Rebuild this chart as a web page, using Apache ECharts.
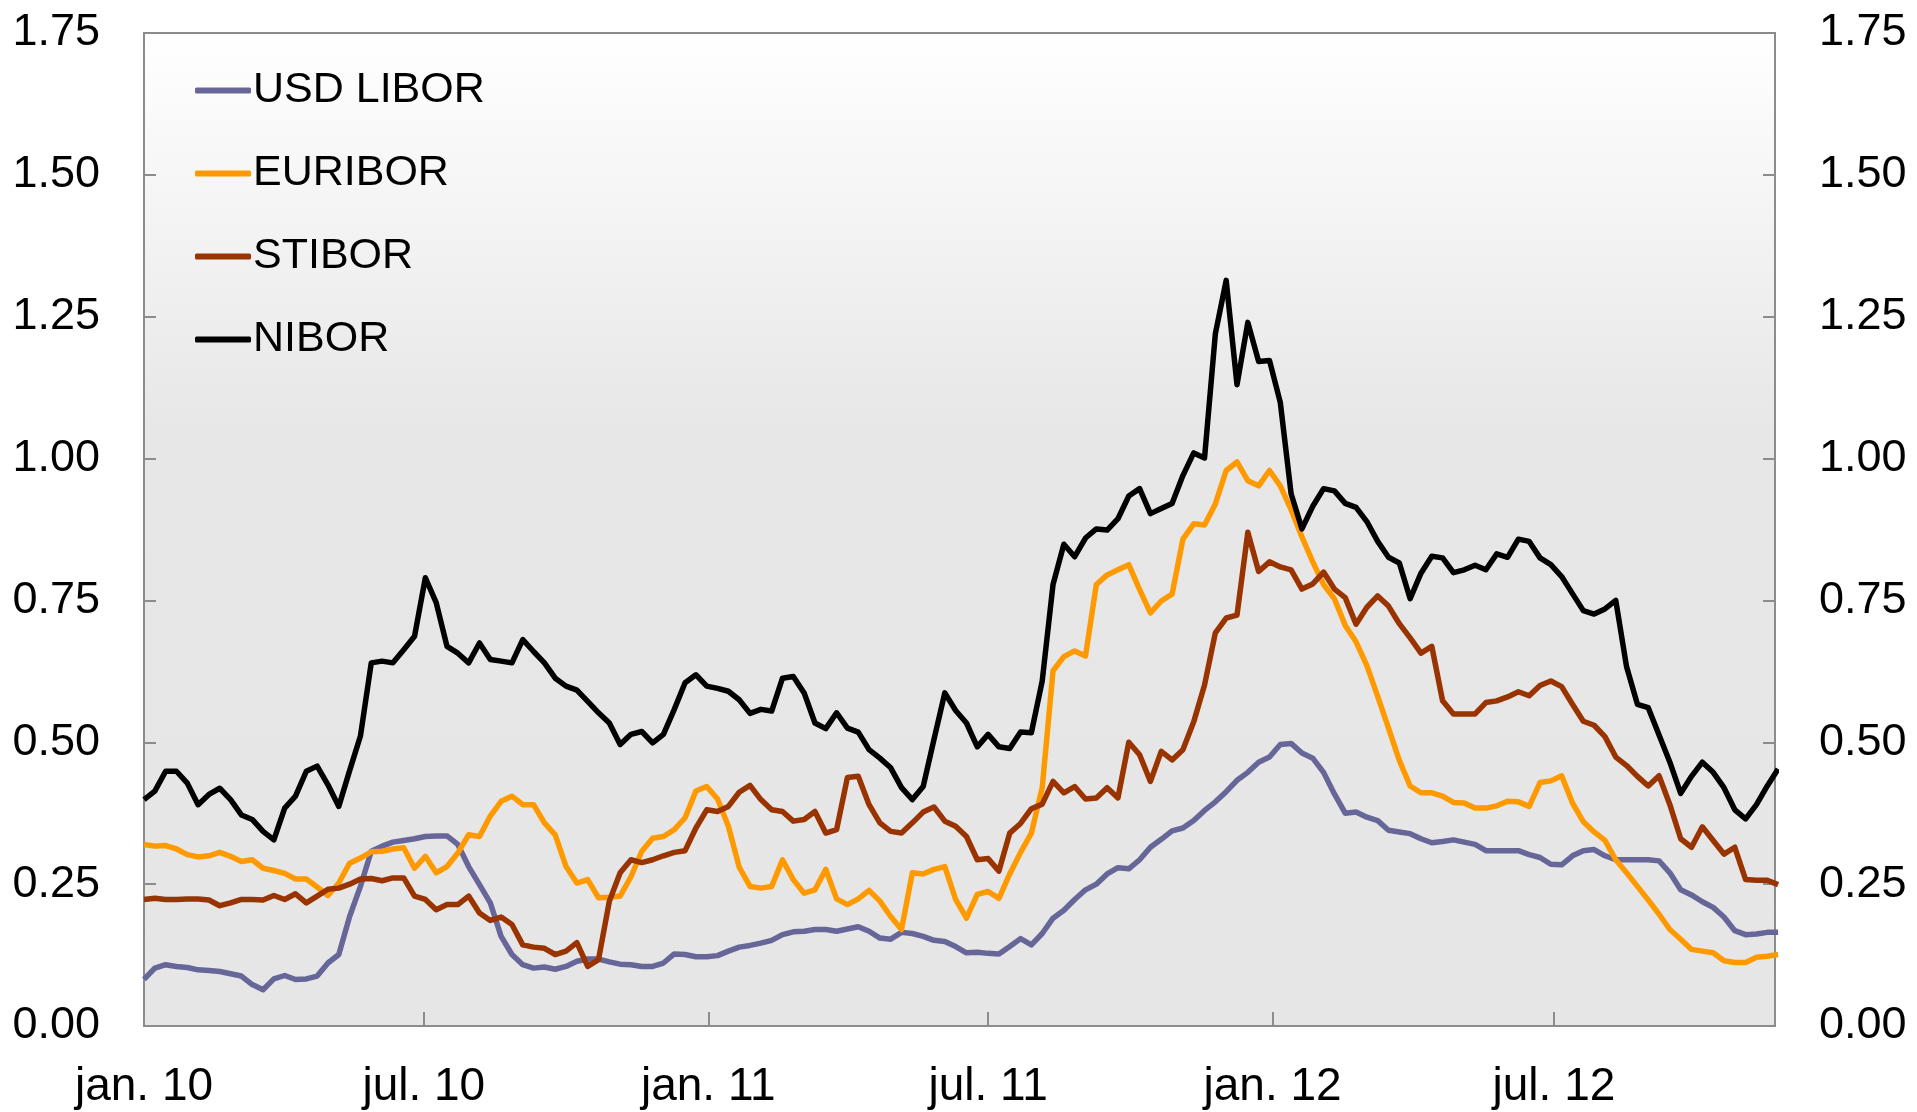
<!DOCTYPE html>
<html>
<head>
<meta charset="utf-8">
<title>Pengemarkedsrenter</title>
<script src="https://cdn.jsdelivr.net/npm/echarts@6/dist/echarts.min.js"></script>
<style>
  html, body { margin: 0; padding: 0; background: #fff; }
  #chart { width: 1917px; height: 1112px; }
</style>
</head>
<body>
<div id="chart"></div>
<script>
// weekly observations, first one 1 Jan 2010
const startDay = Date.UTC(2010, 0, 1)
const endDay = Date.UTC(2012, 10, 21)
const stepDays = 7

const usdLibor = [
  0.082, 0.102, 0.108, 0.105, 0.103, 0.099, 0.098, 0.096, 0.092, 0.088,
  0.073, 0.064, 0.083, 0.089, 0.082, 0.083, 0.088, 0.111, 0.126, 0.193,
  0.246, 0.308, 0.317, 0.324, 0.327, 0.330, 0.334, 0.335, 0.335, 0.320,
  0.281, 0.249, 0.217, 0.158, 0.126, 0.108, 0.102, 0.104, 0.100,
  0.105, 0.114, 0.118, 0.118, 0.113, 0.109, 0.108, 0.105, 0.105, 0.111,
  0.127, 0.126, 0.122, 0.122, 0.124, 0.132, 0.139, 0.142, 0.146, 0.151,
  0.161, 0.166, 0.167, 0.170, 0.170, 0.167, 0.171, 0.175, 0.167, 0.155,
  0.153, 0.165, 0.163, 0.158, 0.151, 0.149, 0.140, 0.129,
  0.130, 0.128, 0.127, 0.140, 0.154, 0.143, 0.163, 0.190, 0.204, 0.223,
  0.240, 0.250, 0.268, 0.279, 0.277, 0.293, 0.315, 0.329, 0.344, 0.349,
  0.362, 0.380, 0.395, 0.413, 0.433, 0.447, 0.465, 0.474, 0.496, 0.498,
  0.481, 0.472, 0.447, 0.409, 0.375, 0.377, 0.368, 0.362,
  0.345, 0.342, 0.339, 0.330, 0.323, 0.325, 0.328, 0.324, 0.320, 0.309,
  0.309, 0.309, 0.309, 0.302, 0.297, 0.285, 0.284, 0.300, 0.309, 0.311,
  0.300, 0.293, 0.293, 0.293, 0.293, 0.291, 0.270, 0.240, 0.231, 0.219,
  0.209, 0.192, 0.168, 0.161, 0.162, 0.165, 0.165
]

const euribor = [
  0.320, 0.317, 0.318, 0.312, 0.302, 0.298, 0.300, 0.306, 0.299, 0.290,
  0.293, 0.278, 0.274, 0.269, 0.259, 0.259, 0.245, 0.230, 0.252, 0.287,
  0.296, 0.307, 0.308, 0.312, 0.314, 0.278, 0.299, 0.270, 0.281, 0.305,
  0.337, 0.334, 0.370, 0.396, 0.405, 0.390, 0.390, 0.358, 0.337,
  0.281, 0.252, 0.258, 0.226, 0.227, 0.229, 0.263, 0.308, 0.331, 0.334,
  0.346, 0.367, 0.414, 0.422, 0.400, 0.352, 0.280, 0.246, 0.243, 0.246,
  0.293, 0.258, 0.234, 0.240, 0.276, 0.224, 0.214, 0.224, 0.239, 0.220,
  0.193, 0.170, 0.270, 0.268, 0.276, 0.281, 0.223, 0.190,
  0.232, 0.237, 0.225, 0.268, 0.306, 0.340, 0.420, 0.626, 0.651, 0.661,
  0.652, 0.778, 0.795, 0.804, 0.813, 0.769, 0.728, 0.749, 0.761, 0.858,
  0.885, 0.883, 0.920, 0.979, 0.994, 0.961, 0.952, 0.979, 0.952, 0.910,
  0.862, 0.818, 0.778, 0.753, 0.706, 0.677, 0.635, 0.581,
  0.525, 0.468, 0.423, 0.411, 0.411, 0.405, 0.394, 0.393, 0.384, 0.384,
  0.388, 0.396, 0.395, 0.387, 0.429, 0.432, 0.441, 0.393, 0.360, 0.342,
  0.327, 0.293, 0.270, 0.246, 0.222, 0.197, 0.170, 0.153, 0.135, 0.132,
  0.129, 0.115, 0.112, 0.112, 0.121, 0.123, 0.126
]

const stibor = [
  0.223, 0.225, 0.223, 0.223, 0.224, 0.224, 0.222, 0.212, 0.217, 0.223,
  0.223, 0.222, 0.230, 0.223, 0.233, 0.217, 0.229, 0.241, 0.243, 0.250,
  0.259, 0.260, 0.256, 0.261, 0.261, 0.229, 0.223, 0.205, 0.214, 0.214,
  0.229, 0.199, 0.186, 0.192, 0.179, 0.143, 0.139, 0.137, 0.126,
  0.132, 0.147, 0.105, 0.117, 0.220, 0.270, 0.293, 0.288, 0.293, 0.300,
  0.306, 0.309, 0.349, 0.381, 0.378, 0.387, 0.412, 0.424, 0.399, 0.381,
  0.378, 0.361, 0.364, 0.378, 0.340, 0.346, 0.438, 0.440, 0.390, 0.358,
  0.343, 0.340, 0.358, 0.377, 0.386, 0.361, 0.352, 0.334,
  0.293, 0.295, 0.273, 0.340, 0.357, 0.383, 0.391, 0.431, 0.411, 0.422,
  0.400, 0.402, 0.420, 0.402, 0.500, 0.478, 0.431, 0.484, 0.469, 0.487,
  0.536, 0.601, 0.693, 0.719, 0.724, 0.870, 0.801, 0.818, 0.809, 0.804,
  0.770, 0.779, 0.800, 0.770, 0.755, 0.708, 0.738, 0.758,
  0.740, 0.709, 0.684, 0.657, 0.669, 0.573, 0.550, 0.550, 0.550, 0.570,
  0.573, 0.580, 0.589, 0.582, 0.600, 0.608, 0.598, 0.567, 0.537, 0.530,
  0.510, 0.474, 0.459, 0.440, 0.423, 0.441, 0.390, 0.330, 0.315, 0.351,
  0.327, 0.303, 0.315, 0.258, 0.257, 0.257, 0.249
]

const nibor = [
  0.399, 0.414, 0.449, 0.449, 0.428, 0.390, 0.408, 0.419, 0.399, 0.372,
  0.364, 0.343, 0.328, 0.384, 0.405, 0.449, 0.458, 0.425, 0.387, 0.450,
  0.511, 0.640, 0.643, 0.640, 0.663, 0.687, 0.790, 0.746, 0.669, 0.657,
  0.640, 0.675, 0.646, 0.643, 0.640, 0.681, 0.660, 0.640, 0.613,
  0.599, 0.592, 0.572, 0.552, 0.534, 0.496, 0.514, 0.519, 0.499, 0.514,
  0.558, 0.605, 0.619, 0.599, 0.595, 0.590, 0.575, 0.551, 0.558, 0.555,
  0.613, 0.616, 0.587, 0.534, 0.524, 0.552, 0.525, 0.518, 0.487, 0.472,
  0.455, 0.420, 0.399, 0.422, 0.505, 0.587, 0.556, 0.534,
  0.492, 0.514, 0.492, 0.489, 0.518, 0.517, 0.608, 0.778, 0.849, 0.827,
  0.860, 0.876, 0.874, 0.894, 0.934, 0.947, 0.903, 0.912, 0.921, 0.970,
  1.010, 1.001, 1.220, 1.314, 1.130, 1.240, 1.171, 1.173, 1.099, 0.938,
  0.876, 0.916, 0.947, 0.943, 0.921, 0.914, 0.889, 0.854,
  0.826, 0.816, 0.753, 0.798, 0.828, 0.825, 0.799, 0.804, 0.812, 0.804,
  0.832, 0.826, 0.858, 0.854, 0.825, 0.813, 0.792, 0.762, 0.732, 0.726,
  0.735, 0.750, 0.633, 0.567, 0.561, 0.513, 0.465, 0.410, 0.440, 0.465,
  0.447, 0.420, 0.381, 0.365, 0.390, 0.423, 0.453
]

const seriesNames = ['USD LIBOR', 'EURIBOR', 'STIBOR', 'NIBOR']
const seriesColors = ['#666699', '#ff9900', '#993300', '#000000']

const tickDates = [
  Date.UTC(2010, 0, 1), Date.UTC(2010, 6, 1), Date.UTC(2011, 0, 1),
  Date.UTC(2011, 6, 1), Date.UTC(2012, 0, 1), Date.UTC(2012, 6, 1)
]
const tickLabels = ['jan. 10', 'jul. 10', 'jan. 11', 'jul. 11', 'jan. 12', 'jul. 12']

const font = "'Liberation Sans', Arial, sans-serif"
const axisGray = '#8c8c8c'

function withDates(values) {
  return values.map((v, i) => [startDay + i * stepDays * 86400000, v])
}

const chart = echarts.init(document.getElementById('chart'))

const yAxisBase = {
  type: 'value',
  min: 0,
  max: 1.75,
  interval: 0.25,
  splitLine: { show: false },
  axisLine: { show: true, lineStyle: { color: axisGray, width: 2 } },
  axisTick: { show: true, inside: true, length: 12, lineStyle: { color: axisGray, width: 2 } },
  axisLabel: {
    margin: 44,
    color: '#000',
    fontSize: 45,
    fontFamily: font,
    formatter: v => v.toFixed(2)
  }
}

const option = {
  animation: false,
  backgroundColor: '#ffffff',
  grid: {
    left: 144,
    right: 142,
    top: 33,
    bottom: 86,
    show: true,
    borderColor: axisGray,
    borderWidth: 2,
    backgroundColor: new echarts.graphic.LinearGradient(0, 0, 0, 1, [
      { offset: 0, color: '#ffffff' },
      { offset: 0.4, color: '#e7e7e7' },
      { offset: 1, color: '#e6e6e6' }
    ])
  },
  legend: {
    orient: 'vertical',
    left: 190,
    top: 64,
    icon: 'roundRect',
    itemWidth: 56,
    itemHeight: 6,
    itemGap: 40,
    data: seriesNames,
    textStyle: { fontSize: 43, lineHeight: 42, color: '#000', fontFamily: font, padding: [0, 0, 0, -3] }
  },
  xAxis: {
    type: 'value',
    min: startDay,
    max: endDay,
    splitLine: { show: false },
    axisLine: { lineStyle: { color: axisGray, width: 2 } },
    axisTick: {
      show: true,
      inside: true,
      length: 14,
      customValues: tickDates,
      lineStyle: { color: axisGray, width: 2 }
    },
    axisLabel: {
      customValues: tickDates,
      margin: 38,
      color: '#000',
      fontSize: 46,
      fontFamily: font,
      formatter: v => tickLabels[tickDates.indexOf(v)] || ''
    }
  },
  yAxis: [
    Object.assign({}, yAxisBase, { position: 'left' }),
    Object.assign({}, yAxisBase, { position: 'right' })
  ],
  series: [usdLibor, euribor, stibor, nibor].map((vals, i) => ({
    name: seriesNames[i],
    type: 'line',
    symbol: 'none',
    data: withDates(vals),
    color: seriesColors[i],
    lineStyle: { width: 5.5, color: seriesColors[i], join: 'round' }
  }))
}

chart.setOption(option)
</script>
</body>
</html>
